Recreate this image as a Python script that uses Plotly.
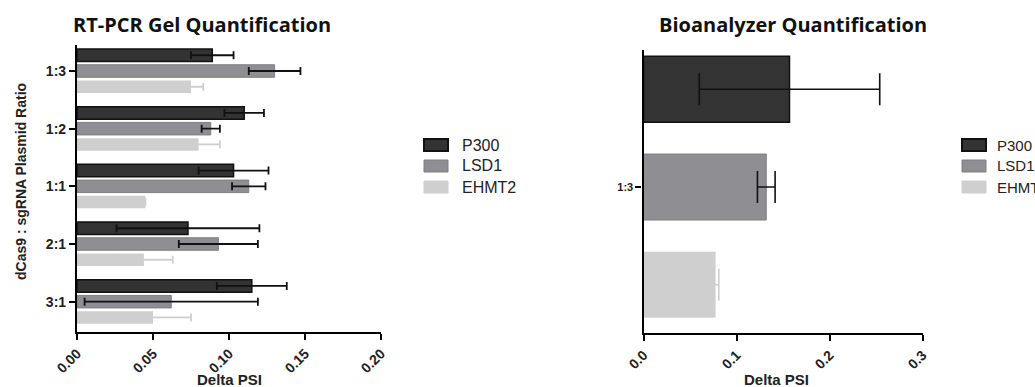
import plotly.graph_objects as go

# ---------------- data ----------------
categories = ["1:3", "1:2", "1:1", "2:1", "3:1"]
series_names = ["P300", "LSD1", "EHMT2"]

gel_p300 = [0.089, 0.110, 0.103, 0.073, 0.115]
gel_p300_err = [0.014, 0.013, 0.023, 0.047, 0.023]
gel_lsd1 = [0.130, 0.088, 0.113, 0.093, 0.062]
gel_lsd1_err = [0.017, 0.006, 0.011, 0.026, 0.057]
gel_ehmt2 = [0.075, 0.080, 0.045, 0.044, 0.050]
gel_ehmt2_err = [0.008, 0.014, 0.0, 0.019, 0.025]

bio_categories = ["1:3"]
bio_p300 = [0.157]
bio_p300_err = [0.097]
bio_lsd1 = [0.132]
bio_lsd1_err = [0.0095]
bio_ehmt2 = [0.0775]
bio_ehmt2_err = [0.0035]

gel_ticks = [0.0, 0.05, 0.10, 0.15, 0.20]
bio_ticks = [0.0, 0.1, 0.2, 0.3]

# ---------------- styles ----------------
W, H = 1035, 387
fills = ["#333333", "#8f8f93", "#cfcfcf"]
lines = ["#111111", "#7e7e82", "#cfcfcf"]
line_w = [1.5, 1.0, 0.0]
err_col = ["#111111", "#111111", "#cfcfcf"]
FONT = "Arial, Liberation Sans, sans-serif"
TFONT = "Open Sans, sans-serif"


def px_x(x):
    return x / W


def px_y(y):
    return 1 - y / H


fig = go.Figure()

gel_vals = [gel_p300, gel_lsd1, gel_ehmt2]
gel_errs = [gel_p300_err, gel_lsd1_err, gel_ehmt2_err]
bio_vals = [bio_p300, bio_lsd1, bio_ehmt2]
bio_errs = [bio_p300_err, bio_lsd1_err, bio_ehmt2_err]

# left panel: slot and bar thickness in category units
s_l, w_l = 0.2734, 0.217
for i, name in enumerate(series_names):
    fig.add_trace(go.Bar(
        y=categories, x=gel_vals[i], orientation="h", name=name,
        marker=dict(color=fills[i], line=dict(color=lines[i], width=line_w[i])),
        width=w_l, offset=-1.5 * s_l + i * s_l + (s_l - w_l) / 2,
        error_x=dict(type="data", array=gel_errs[i], color=err_col[i],
                     thickness=1.8, width=4),
        xaxis="x", yaxis="y", showlegend=False,
    ))

s_r, w_r = 0.326, 0.22
for i, name in enumerate(series_names):
    fig.add_trace(go.Bar(
        y=bio_categories, x=bio_vals[i], orientation="h", name=name,
        marker=dict(color=fills[i], line=dict(color=lines[i], width=line_w[i])),
        width=w_r, offset=-1.5 * s_r + i * s_r + (s_r - w_r) / 2,
        error_x=dict(type="data", array=bio_errs[i], color=err_col[i],
                     thickness=1.6, width=16),
        xaxis="x2", yaxis="y2", showlegend=False,
    ))


def tfont(size):
    return dict(family=FONT, size=size, color="#222", weight="bold")


axis_common = dict(showline=True, linecolor="black", linewidth=2.2,
                   ticks="outside", tickcolor="black", tickwidth=2,
                   showgrid=False, zeroline=False, automargin=False)

fig.update_layout(
    template="none",
    width=W, height=H, barmode="overlay",
    paper_bgcolor="white", plot_bgcolor="white",
    margin=dict(l=0, r=0, t=0, b=0, autoexpand=False),
    showlegend=False,
    xaxis=dict(domain=[px_x(77), px_x(381)], range=[0, 0.2],
               tickvals=gel_ticks, tickformat=".2f", tickangle=-45, ticklen=6,
               anchor="y", tickfont=tfont(14), **axis_common),
    yaxis=dict(domain=[px_y(332), px_y(45)], type="category",
               categoryarray=categories, range=[4.526, -0.451], ticklen=6,
               anchor="x", tickfont=tfont(14), **axis_common),
    xaxis2=dict(domain=[px_x(643.5), px_x(922.5)], range=[0, 0.3],
                tickvals=bio_ticks, tickformat=".1f", tickangle=-45, ticklen=6,
                anchor="y2", tickfont=tfont(14), **axis_common),
    yaxis2=dict(domain=[px_y(333.3), px_y(50)], type="category",
                categoryarray=bio_categories, range=[0.4877, -0.457], ticklen=6,
                anchor="x2", tickfont=tfont(11), **axis_common),
)

annotations = [
    dict(text="RT-PCR Gel Quantification", x=px_x(202), y=px_y(24),
         font=dict(family=TFONT, size=20, color="#111", weight="bold")),
    dict(text="Bioanalyzer Quantification", x=px_x(793), y=px_y(24),
         font=dict(family=TFONT, size=20, color="#111", weight="bold")),
    dict(text="Delta PSI", x=px_x(229), y=px_y(379), font=tfont(15)),
    dict(text="Delta PSI", x=px_x(776), y=px_y(379), font=tfont(15)),
    dict(text="dCas9 : sgRNA Plasmid Ratio", x=px_x(21), y=px_y(182), textangle=-90,
         font=tfont(14)),
]
for a in annotations:
    a.update(xref="paper", yref="paper", showarrow=False, xanchor="center", yanchor="middle")

# manual legends (wide swatches)
shapes = []
legend_rows = [145, 166, 187]
for lx0, tx, fs in [(424, 460, 16), (962, 995, 15)]:
    for i, name in enumerate(series_names):
        yc = legend_rows[i]
        shapes.append(dict(type="rect", xref="paper", yref="paper",
                           x0=px_x(lx0), x1=px_x(lx0 + 24),
                           y0=px_y(yc + 6), y1=px_y(yc - 6),
                           fillcolor=fills[i],
                           line=dict(color=lines[i] if i < 2 else fills[i], width=2 if i == 0 else 1)))
        annotations.append(dict(text=name, x=px_x(tx), y=px_y(yc), xref="paper", yref="paper",
                                showarrow=False, xanchor="left", yanchor="middle",
                                font=dict(family=FONT, size=fs, color="#222")))

fig.update_layout(annotations=annotations, shapes=shapes)
fig.write_html(
    "out.html",
    config={"displayModeBar": False},
    post_script="document.body.style.margin='0';document.body.style.overflow='hidden';",
)
